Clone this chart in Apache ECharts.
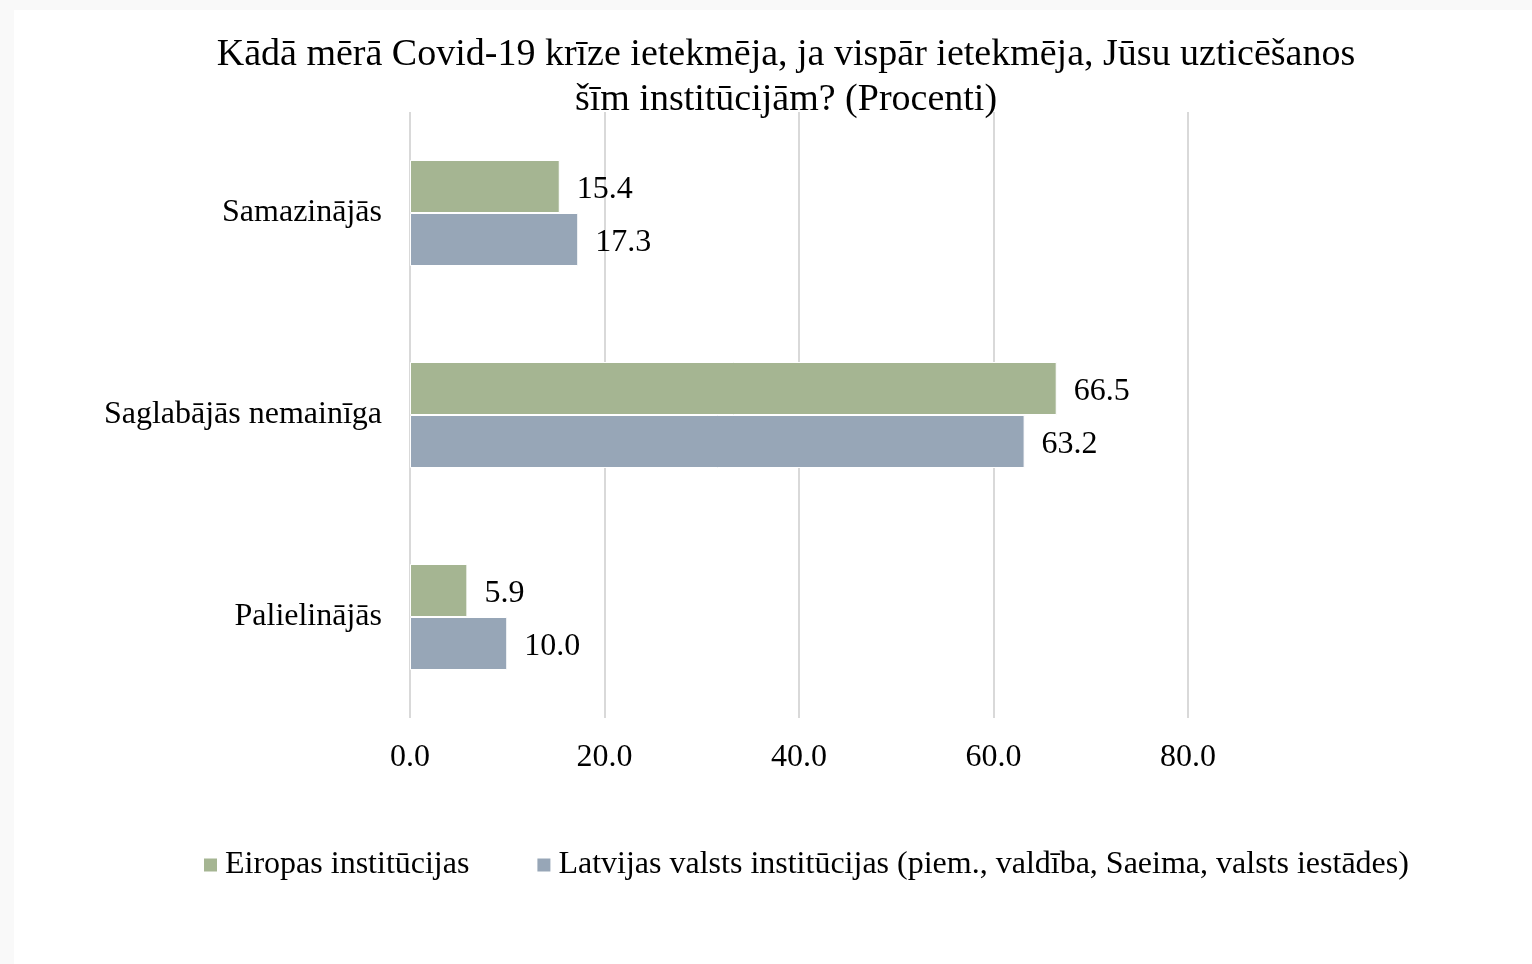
<!DOCTYPE html>
<html>
<head>
<meta charset="utf-8">
<script src="https://cdn.jsdelivr.net/npm/echarts@6/dist/echarts.min.js"></script>
<style>
  html, body { margin: 0; padding: 0; background: #f9f9f9; }
  #chart { position: absolute; left: 14px; top: 10px; width: 1518px; height: 954px; background: #fff; }
</style>
</head>
<body>
<div id="chart"></div>
<script>
const categories = ['Samazinājās', 'Saglabājās nemainīga', 'Palielinājās']
const seriesNames = ['Eiropas institūcijas', 'Latvijas valsts institūcijas (piem., valdība, Saeima, valsts iestādes)']
const euroValues = [15.4, 66.5, 5.9]
const latviaValues = [17.3, 63.2, 10.0]
const xTicks = [0, 20, 40, 60, 80]

const font = '"Liberation Serif", "Times New Roman", serif'
const colors = ['#a5b592', '#97a6b7']

const myChart = echarts.init(document.getElementById('chart'))

function barSeries(name, data, color) {
  return {
    name: name,
    type: 'bar',
    barWidth: 53,
    barGap: '0%',
    data: data,
    itemStyle: {
      color: color,
      borderColor: '#ffffff',
      borderWidth: 1
    },
    label: {
      show: true,
      position: 'right',
      distance: 17,
      offset: [0, 3],
      color: '#000',
      fontFamily: font,
      fontSize: 32,
      formatter(p) {
        return p.value.toFixed(1)
      }
    }
  }
}

const option = {
  animation: false,
  title: {
    text: 'Kādā mērā Covid-19 krīze ietekmēja, ja vispār ietekmēja, Jūsu uzticēšanos\nšīm institūcijām? (Procenti)',
    left: 767,
    top: 18,
    textAlign: 'center',
    textStyle: {
      fontFamily: font,
      fontSize: 38,
      fontWeight: 'normal',
      color: '#000',
      lineHeight: 45
    }
  },
  legend: {
    left: 183,
    top: 834,
    itemWidth: 15,
    itemHeight: 15,
    itemGap: 66,
    icon: 'rect',
    textStyle: {
      fontFamily: font,
      fontSize: 32,
      color: '#000',
      padding: [0, 0, 0, 2]
    },
    data: seriesNames
  },
  grid: {
    left: 396,
    right: 344,
    top: 102,
    height: 606,
    containLabel: false
  },
  xAxis: {
    type: 'value',
    min: xTicks[0],
    max: xTicks[xTicks.length - 1],
    interval: 20,
    axisLine: { show: false },
    axisTick: { show: false },
    splitLine: { lineStyle: { color: '#d9d9d9', width: 2 } },
    axisLabel: {
      margin: 24,
      color: '#000',
      fontFamily: font,
      fontSize: 32,
      formatter(v) {
        return v.toFixed(1)
      }
    }
  },
  yAxis: {
    type: 'category',
    inverse: true,
    data: categories,
    axisLine: { show: false },
    axisTick: { show: false },
    axisLabel: {
      margin: 28,
      padding: [6, 0, 0, 0],
      color: '#000',
      fontFamily: font,
      fontSize: 32
    }
  },
  series: [
    barSeries(seriesNames[0], euroValues, colors[0]),
    barSeries(seriesNames[1], latviaValues, colors[1])
  ]
}
myChart.setOption(option)
</script>
</body>
</html>
